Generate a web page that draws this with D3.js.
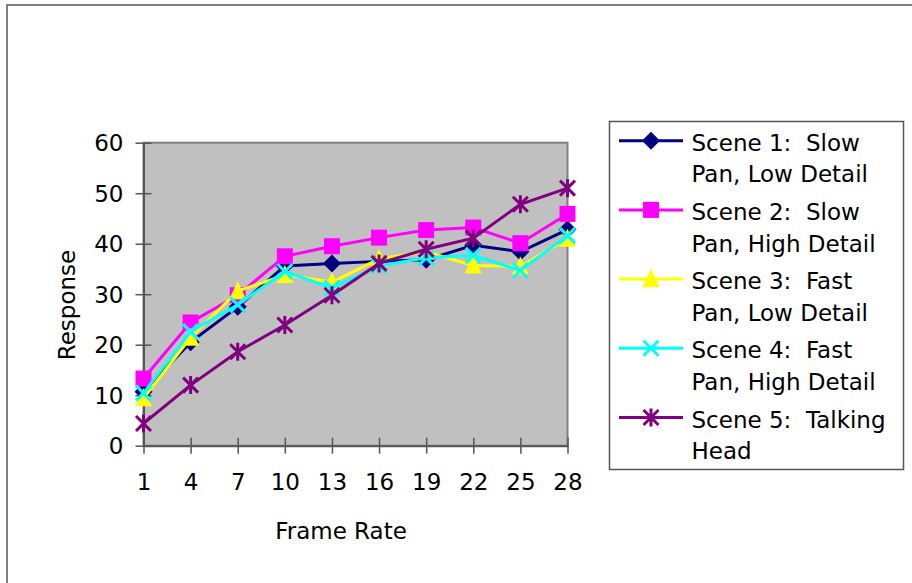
<!DOCTYPE html>
<html>
<head>
<meta charset="utf-8">
<script src="https://cdn.jsdelivr.net/npm/d3@7"></script>
<style>
  body { margin: 0; background: #fff; }
  text { font-family: "DejaVu Sans", Verdana, sans-serif; fill: #000; white-space: pre; }
</style>
</head>
<body>
<svg id="chart" width="912" height="583"></svg>
<script>
// frame rates on the x axis
var frameRates = ["1", "4", "7", "10", "13", "16", "19", "22", "25", "28"];
var yTicks = [0, 10, 20, 30, 40, 50, 60];

var scene1 = [10.7, 20.5, 27.5, 35.6, 36.1, 36.5, 36.8, 39.7, 38.4, 42.8];
var scene2 = [13.3, 24.4, 29.8, 37.5, 39.5, 41.2, 42.7, 43.2, 40.1, 45.9];
var scene3 = [9.4, 21.4, 30.6, 33.8, 32.4, 37.0, 38.4, 35.7, 35.5, 41.0];
var scene4 = [10.4, 22.6, 27.9, 34.5, 31.2, 35.6, 37.2, 37.7, 34.7, 41.6];
var scene5 = [4.4, 12.0, 18.6, 23.9, 29.8, 36.1, 38.9, 41.1, 47.8, 51.0];

var seriesNames = [
  ["Scene 1:  Slow", "Pan, Low Detail"],
  ["Scene 2:  Slow", "Pan, High Detail"],
  ["Scene 3:  Fast", "Pan, Low Detail"],
  ["Scene 4:  Fast", "Pan, High Detail"],
  ["Scene 5:  Talking", "Head"]
];
var seriesColors = ["#000080", "#ff00ff", "#ffff00", "#00ffff", "#800080"];
var seriesMarkers = ["diamond", "square", "triangle", "x", "star"];

var series = [scene1, scene2, scene3, scene4, scene5].map(function(vals, i) {
  return { name: seriesNames[i], color: seriesColors[i], marker: seriesMarkers[i], values: vals };
});

var svg = d3.select("#chart");

// outer chart frame
svg.append("rect")
  .attr("x", 7).attr("y", 5)
  .attr("width", 920).attr("height", 600)
  .attr("fill", "#fff")
  .attr("stroke", "#808080")
  .attr("stroke-width", 2);

var plot = { left: 143.5, top: 142.7, right: 567.5, bottom: 445.7 };

var x = d3.scalePoint().domain(frameRates).range([plot.left, plot.right]).padding(0);
var y = d3.scaleLinear().domain([0, 60]).range([plot.bottom, plot.top]);

// plot background
svg.append("rect")
  .attr("x", plot.left).attr("y", plot.top)
  .attr("width", plot.right - plot.left).attr("height", plot.bottom - plot.top)
  .attr("fill", "#c0c0c0")
  .attr("stroke", "#808080")
  .attr("stroke-width", 2);

// axes
var yAxis = d3.axisLeft(y).tickValues(yTicks).tickSize(0).tickPadding(20);
var gy = svg.append("g").attr("transform", "translate(" + plot.left + ",0)").call(yAxis);
gy.select(".domain").attr("stroke", "#555").attr("stroke-width", 2);
gy.selectAll(".tick line").attr("x1", -8).attr("x2", 8).attr("stroke", "#555").attr("stroke-width", 1.5);
gy.selectAll(".tick text").attr("font-size", 23).attr("font-family", "DejaVu Sans").attr("dy", "0.36em");

var xAxis = d3.axisBottom(x).tickSize(0).tickPadding(28);
var gx = svg.append("g").attr("transform", "translate(0," + plot.bottom + ")").call(xAxis);
gx.select(".domain").attr("stroke", "#555").attr("stroke-width", 2);
gx.selectAll(".tick line").attr("y1", -8).attr("y2", 8).attr("stroke", "#555").attr("stroke-width", 1.5);
gx.selectAll(".tick text").attr("font-size", 23).attr("font-family", "DejaVu Sans");

svg.append("text")
  .attr("x", 341).attr("y", 539)
  .attr("text-anchor", "middle")
  .attr("font-size", 23)
  .text("Frame Rate");

svg.append("text")
  .attr("transform", "translate(75,305) rotate(-90)")
  .attr("text-anchor", "middle")
  .attr("font-size", 23)
  .text("Response");

function drawMarker(g, type, color) {
  if (type === "diamond") {
    g.append("path").attr("d", "M0,-9L9,0L0,9L-9,0Z").attr("fill", color);
  } else if (type === "square") {
    g.append("rect").attr("x", -8).attr("y", -8).attr("width", 16).attr("height", 16).attr("fill", color);
  } else if (type === "triangle") {
    g.append("path").attr("d", "M0,-10L8.5,8L-8.5,8Z").attr("fill", color);
  } else if (type === "x") {
    g.append("path").attr("d", "M-7.5,-7.5L7.5,7.5M-7.5,7.5L7.5,-7.5")
      .attr("stroke", color).attr("stroke-width", 3).attr("fill", "none");
  } else if (type === "star") {
    g.append("path").attr("d", "M-7.5,-7.5L7.5,7.5M-7.5,7.5L7.5,-7.5M0,-9L0,9")
      .attr("stroke", color).attr("stroke-width", 3).attr("fill", "none");
  }
}

var line = d3.line()
  .x(function(d, i) { return x(frameRates[i]); })
  .y(function(d) { return y(d); });

series.forEach(function(s) {
  var g = svg.append("g");
  g.append("path")
    .datum(s.values)
    .attr("d", line)
    .attr("fill", "none")
    .attr("stroke", s.color)
    .attr("stroke-width", 3);
  s.values.forEach(function(v, i) {
    var m = g.append("g").attr("transform", "translate(" + x(frameRates[i]) + "," + y(v) + ")");
    drawMarker(m, s.marker, s.color);
  });
});

// legend
var legend = svg.append("g");
legend.append("rect")
  .attr("x", 609.5).attr("y", 121.5)
  .attr("width", 294).attr("height", 348)
  .attr("fill", "#fff")
  .attr("stroke", "#555")
  .attr("stroke-width", 1.5);

series.forEach(function(s, i) {
  var ly = 140.7 + i * 69.2;
  var item = legend.append("g");
  item.append("line")
    .attr("x1", 619).attr("x2", 683)
    .attr("y1", ly).attr("y2", ly)
    .attr("stroke", s.color).attr("stroke-width", 3);
  drawMarker(item.append("g").attr("transform", "translate(651," + ly + ")"), s.marker, s.color);
  s.name.forEach(function(t, j) {
    item.append("text")
      .attr("x", 691.5)
      .attr("y", ly + 10 + j * 31.6)
      .attr("font-size", 23)
      .text(t);
  });
});
</script>
</body>
</html>
